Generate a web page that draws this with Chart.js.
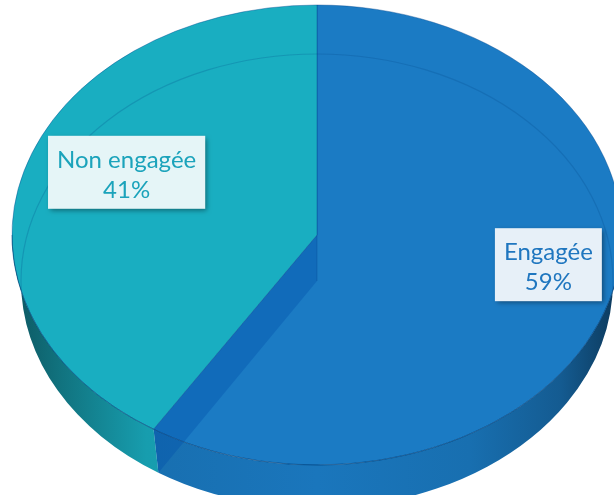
<!DOCTYPE html>
<html lang="fr">
<head>
<meta charset="utf-8">
<title>Engagement</title>
<script src="https://cdn.jsdelivr.net/npm/chart.js@4.4.1/dist/chart.umd.min.js"></script>
<style>
  html, body { margin: 0; padding: 0; background: #fff; }
  #wrap { width: 614px; height: 495px; }
</style>
</head>
<body>
<div id="wrap"><canvas id="pieChart" width="614" height="495"></canvas></div>
<script>
  // Données
  const labels = ['Engagée', 'Non engagée'];
  const values = [59, 41];

  // Styles
  const topColors = ['#1b7bc4', '#19aec1'];
  const textColors = ['#1f76bf', '#1ba3bb'];
  const boxColors = ['#e7f0f8', '#e5f5f7'];
  const labelRadius = [0.79, 0.65];

  function shade(hex, f) {
    const n = parseInt(hex.slice(1), 16);
    const r = Math.round(((n >> 16) & 255) * f);
    const g = Math.round(((n >> 8) & 255) * f);
    const b = Math.round((n & 255) * f);
    return `rgb(${r},${g},${b})`;
  }

  // dégradé du flanc : bords sombres, plus clair vers l'avant
  function sideGradient(ctx, cx, rx, color) {
    const g = ctx.createLinearGradient(cx - rx, 0, cx + rx, 0);
    [[0, 0.5], [0.08, 0.66], [0.22, 0.9], [0.5, 0.96], [0.75, 0.9], [0.9, 0.74], [1, 0.45]]
      .forEach(([t, f]) => g.addColorStop(t, shade(color, f)));
    return g;
  }

  // géométrie : dessus et fond (le fond est un peu plus petit, effet de perspective)
  function geometry(chart, opts) {
    const arcs = chart.getDatasetMeta(0).data;
    const { x: cx, y: cy, outerRadius: rx } = arcs[0];
    const ry = rx * opts.tilt;
    return {
      arcs, cx, cy, rx, ry,
      by: cy + opts.depth,
      brx: rx - opts.shrinkX,
      bry: ry - opts.shrinkY
    };
  }

  const pie3d = {
    id: 'pie3d',
    beforeDatasetsDraw(chart, args, opts) {
      const ctx = chart.ctx;
      const { arcs, cx, cy, rx, ry, by, brx, bry } = geometry(chart, opts);

      // flancs visibles (moitié avant)
      arcs.forEach((arc, i) => {
        for (let k = -1; k <= 1; k++) {
          const lo = Math.max(arc.startAngle, 2 * Math.PI * k);
          const hi = Math.min(arc.endAngle, Math.PI + 2 * Math.PI * k);
          if (hi <= lo) continue;
          ctx.beginPath();
          ctx.ellipse(cx, cy, rx, ry, 0, lo, hi);
          ctx.ellipse(cx, by, brx, bry, 0, hi, lo, true);
          ctx.closePath();
          ctx.fillStyle = sideGradient(ctx, cx, rx, topColors[i]);
          ctx.fill();
        }
      });

      // le dessus du camembert est écrasé en ellipse
      ctx.save();
      ctx.translate(cx, cy);
      ctx.scale(1, opts.tilt);
      ctx.translate(-cx, -cy);
    },
    afterDatasetsDraw(chart, args, opts) {
      const ctx = chart.ctx;
      ctx.restore();
      const { arcs, cx, cy, rx, ry, by, brx, bry } = geometry(chart, opts);

      // face de coupe vue par transparence
      const e = arcs[0].endAngle;
      ctx.beginPath();
      ctx.moveTo(cx, cy);
      ctx.lineTo(cx + rx * Math.cos(e), cy + ry * Math.sin(e));
      ctx.lineTo(cx + brx * Math.cos(e), by + bry * Math.sin(e));
      ctx.lineTo(cx, by);
      ctx.closePath();
      ctx.fillStyle = 'rgba(0, 78, 170, 0.35)';
      ctx.fill();
      ctx.beginPath();
      ctx.moveTo(cx, cy);
      ctx.lineTo(cx, by);
      ctx.strokeStyle = 'rgba(0, 60, 130, 0.25)';
      ctx.lineWidth = 1;
      ctx.stroke();

      // contour du fond, visible à travers le dessus
      ctx.save();
      ctx.beginPath();
      ctx.ellipse(cx, cy, rx, ry, 0, 0, 2 * Math.PI);
      ctx.clip();
      ctx.beginPath();
      ctx.ellipse(cx, by, brx, bry, 0, 0, 2 * Math.PI);
      ctx.strokeStyle = 'rgba(0, 70, 130, 0.22)';
      ctx.lineWidth = 1.2;
      ctx.stroke();
      ctx.restore();

      // arête avant entre dessus et flanc
      ctx.beginPath();
      ctx.ellipse(cx, cy, rx, ry, 0, 0, Math.PI);
      ctx.strokeStyle = 'rgba(0, 60, 110, 0.45)';
      ctx.lineWidth = 1;
      ctx.stroke();

      // étiquettes
      const data = chart.data.datasets[0].data;
      const total = data.reduce((a, b) => a + b, 0);
      ctx.font = opts.font;
      arcs.forEach((arc, i) => {
        const mid = (arc.startAngle + arc.endAngle) / 2;
        const ax = cx + rx * labelRadius[i] * Math.cos(mid);
        const ay = cy + ry * labelRadius[i] * Math.sin(mid) + opts.labelLift;
        const lines = [chart.data.labels[i], Math.round(data[i] / total * 100) + '%'];
        const w = Math.max(...lines.map(t => ctx.measureText(t).width)) + 18;
        const h = 73;
        const bx = ax - w / 2;
        const bty = ay - h / 2;

        ctx.save();
        ctx.shadowColor = 'rgba(0, 0, 0, 0.4)';
        ctx.shadowBlur = 5;
        ctx.shadowOffsetX = 2;
        ctx.shadowOffsetY = 2;
        ctx.fillStyle = boxColors[i];
        ctx.fillRect(bx, bty, w, h);
        ctx.restore();

        ctx.fillStyle = textColors[i];
        ctx.textAlign = 'center';
        ctx.textBaseline = 'alphabetic';
        ctx.fillText(lines[0], ax, bty + 32);
        ctx.fillText(lines[1], ax, bty + 62);
      });
    }
  };

  new Chart(document.getElementById('pieChart'), {
    type: 'pie',
    data: {
      labels: labels,
      datasets: [{
        data: values,
        backgroundColor: topColors,
        borderColor: 'rgba(0, 70, 140, 0.45)',
        borderWidth: 1,
        radius: 305,
        clip: false
      }]
    },
    options: {
      responsive: false,
      animation: false,
      layout: { padding: { left: 20, right: 0, top: 0, bottom: 25 } },
      events: [],
      plugins: {
        legend: { display: false },
        tooltip: { enabled: false },
        pie3d: {
          tilt: 230 / 305,
          depth: 46,
          shrinkX: 9,
          shrinkY: 3,
          labelLift: -21,
          font: '24px Lato'
        }
      }
    },
    plugins: [pie3d]
  });
</script>
</body>
</html>
